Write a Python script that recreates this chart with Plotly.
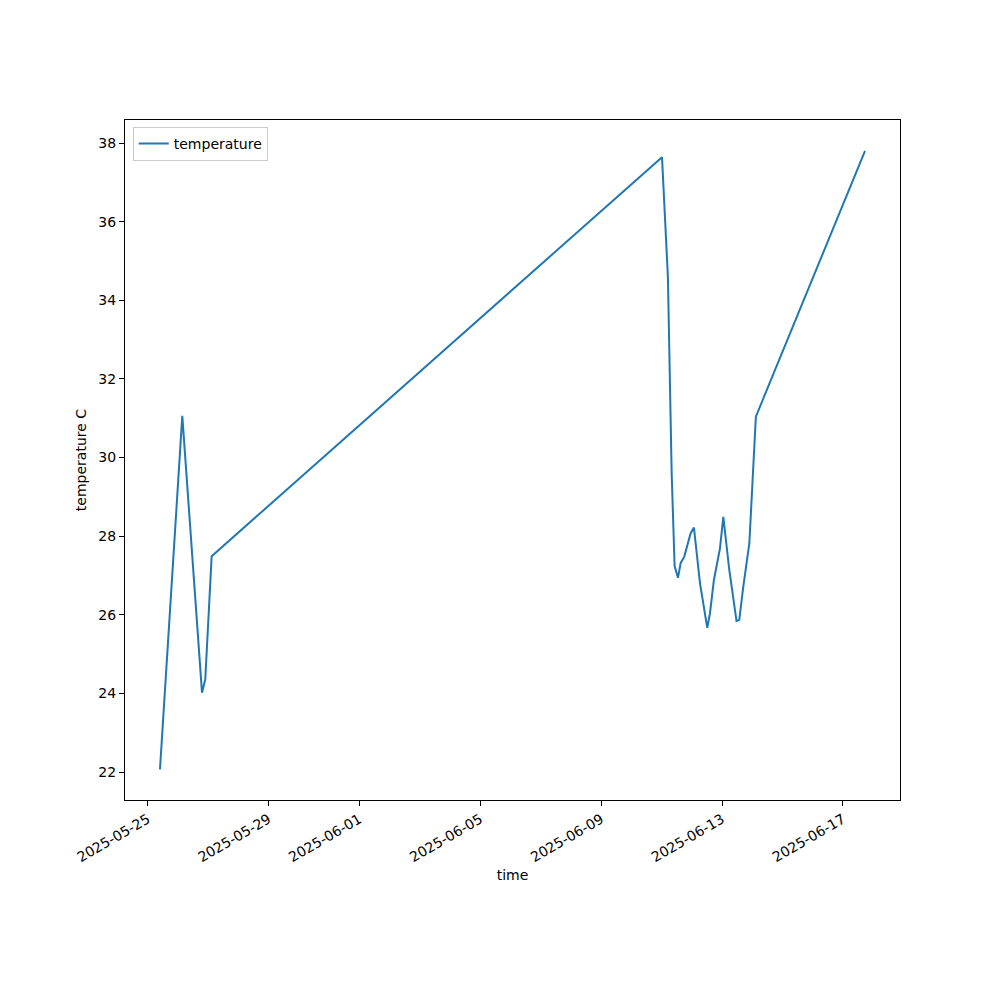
import plotly.graph_objects as go

times = [
    "2025-05-25 09:46", "2025-05-26 03:29", "2025-05-26 19:08", "2025-05-26 21:43",
    "2025-05-27 02:48", "2025-06-11 00:19", "2025-06-11 05:00", "2025-06-11 08:00",
    "2025-06-11 10:20", "2025-06-11 13:00", "2025-06-11 15:10", "2025-06-11 18:00",
    "2025-06-11 23:00", "2025-06-12 01:40", "2025-06-12 06:30", "2025-06-12 09:36",
    "2025-06-12 12:15", "2025-06-12 14:24", "2025-06-12 17:30", "2025-06-12 22:20",
    "2025-06-13 01:00", "2025-06-13 05:45", "2025-06-13 08:40", "2025-06-13 11:30",
    "2025-06-13 13:40", "2025-06-13 16:50", "2025-06-13 21:40", "2025-06-14 02:50",
    "2025-06-17 17:30",
]
temperature = [
    22.07, 31.06, 24.02, 24.36,
    27.49, 37.64, 34.60, 29.60,
    27.24, 26.94, 27.32, 27.48,
    28.07, 28.22, 26.80, 26.12,
    25.67, 26.04, 26.88, 27.69,
    28.49, 27.14, 26.46, 25.84,
    25.87, 26.71, 27.82, 31.04,
    37.80,
]
xtick_vals = ["2025-05-25", "2025-05-29", "2025-06-01", "2025-06-05",
              "2025-06-09", "2025-06-13", "2025-06-17"]
ytick_vals = [22, 24, 26, 28, 30, 32, 34, 36, 38]

fig = go.Figure()
fig.add_trace(go.Scatter(x=times, y=temperature, mode="lines", name="temperature",
                         line=dict(color="#1f77b4", width=2)))

font = dict(family="DejaVu Sans", size=14, color="black")
fig.update_layout(
    width=1000, height=1000,
    margin=dict(l=117, r=108, t=112, b=208),
    paper_bgcolor="white", plot_bgcolor="white",
    font=font,
    showlegend=True,
    legend=dict(x=0.01, y=0.99, xanchor="left", yanchor="top",
                bgcolor="white", bordercolor="#cccccc", borderwidth=1,
                font=font, tracegroupgap=0, itemwidth=30),
    xaxis=dict(
        type="date",
        range=["2025-05-24 06:00", "2025-06-18 21:16"],
        tickvals=xtick_vals, ticktext=xtick_vals,
        tickangle=-30,
        ticks="outside", ticklen=5, tickcolor="black",
        showline=True, linecolor="black", linewidth=1, mirror=True,
        showgrid=False, zeroline=False,
        title=dict(text="time", font=font, standoff=6),
    ),
    yaxis=dict(
        range=[21.29, 38.585],
        tickvals=ytick_vals,
        ticks="outside", ticklen=5, tickcolor="black",
        showline=True, linecolor="black", linewidth=1, mirror=True,
        showgrid=False, zeroline=False,
        title=dict(text="temperature C", font=font, standoff=8),
    ),
)
fig.write_html("out.html")
